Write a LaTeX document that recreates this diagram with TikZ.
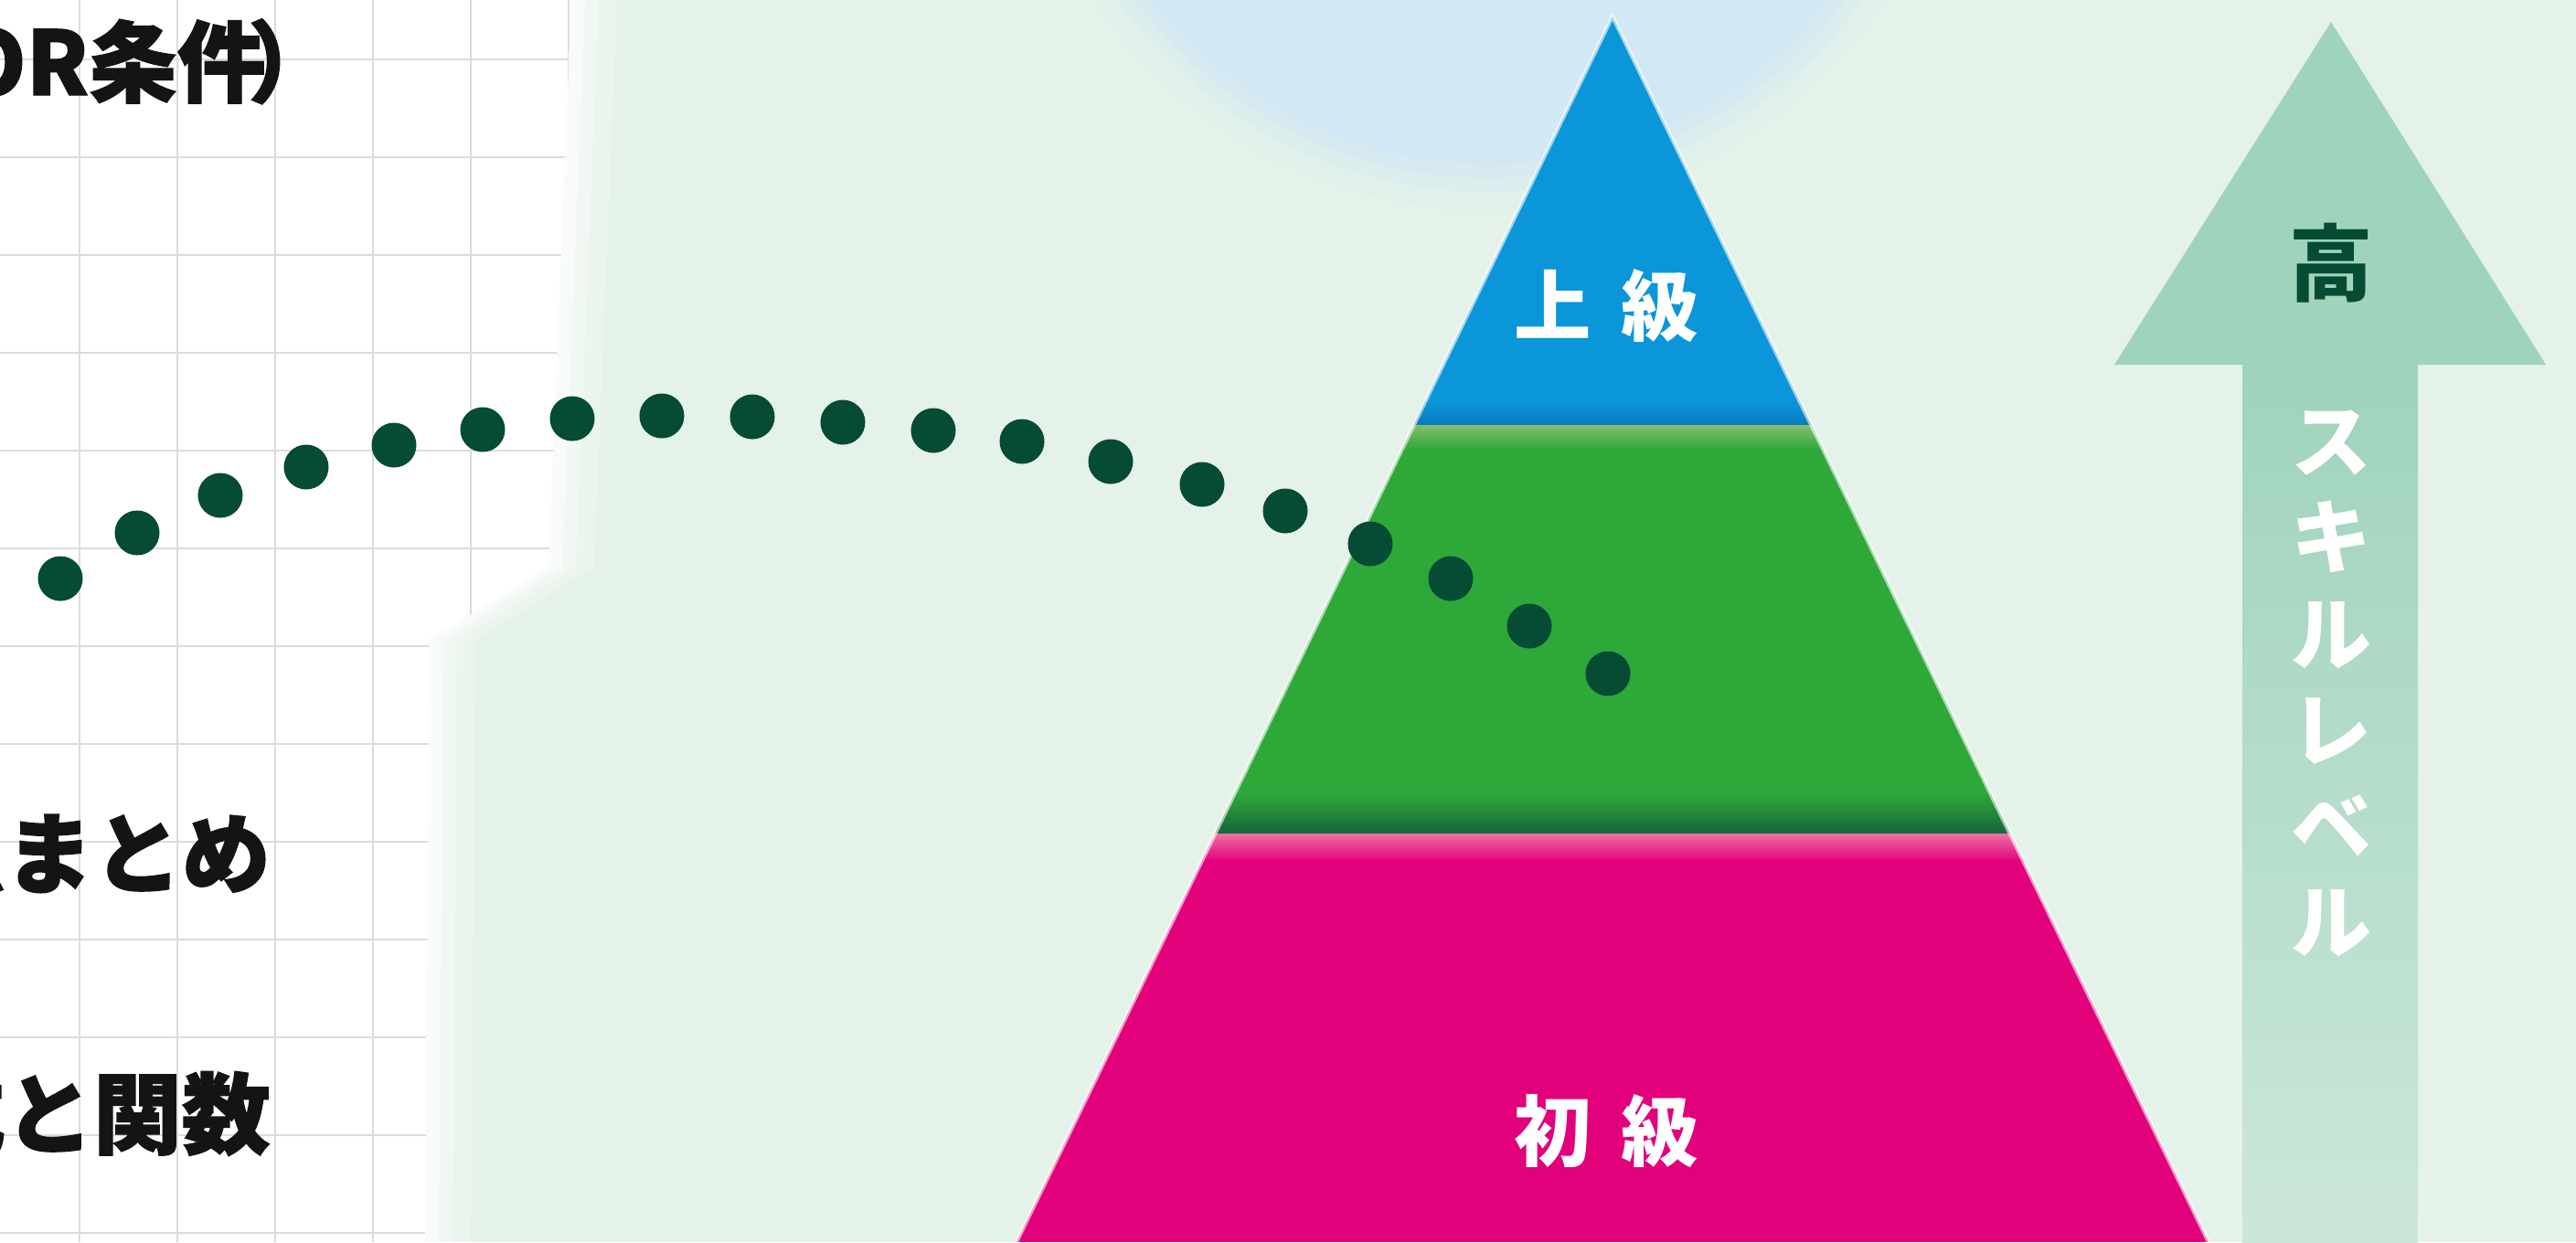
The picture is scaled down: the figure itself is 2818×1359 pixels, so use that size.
\documentclass[tikz,border=0pt]{standalone}
\usepackage{fontspec}
\newfontfamily\jp{Noto Sans CJK JP}
\newfontfamily\jpheavy[BoldFeatures={FakeBold=1.5}]{Noto Sans CJK JP}
\usetikzlibrary{calc}

\definecolor{bgmint}{HTML}{E4F2E9}
\definecolor{gridgray}{HTML}{DCDCDC}
\definecolor{hazeblue}{HTML}{D3E8F5}
\definecolor{tierblue}{HTML}{0A96D9}
\definecolor{tierbluedk}{HTML}{0A78BC}
\definecolor{tiergreen}{HTML}{2FA83A}
\definecolor{tiergreenlt}{HTML}{84BD6E}
\definecolor{tiergreendk}{HTML}{17653A}
\definecolor{tierpink}{HTML}{E2007B}
\definecolor{tierpinklt}{HTML}{EE70A4}
\definecolor{arrowmint}{HTML}{9FD3BC}
\definecolor{dotgreen}{HTML}{064B33}

\begin{document}
\begin{tikzpicture}[x=0.01cm, y=-0.01cm,
    gridline/.style={gridgray, line width=0.7pt},
    leftlabel/.style={inner sep=0pt, anchor=base west, text=black!92,
      font=\jpheavy\bfseries\fontsize{27.5}{30}\selectfont},
    tierlabel/.style={inner sep=0pt, text=white,
      font=\jp\bfseries\fontsize{24}{28}\selectfont},
    pathdot/.style={circle, fill=dotgreen, inner sep=0pt, minimum size=0.49cm}]
    \useasboundingbox (0,0) rectangle (2818,1359);
    \clip (0,0) rectangle (2818,1359);
    \fill[bgmint] (0,0) rectangle (2818,1359);

    % blue haze behind the apex
    \foreach \r/\o in {520/.2, 500/.3, 485/.45, 470/1}
        \fill[hazeblue, opacity=\o] (1630,-290) circle[radius=\r];

    % squared paper
    \foreach \d/\o in {50/.25, 30/.35, 15/.5}
        \fill[white, opacity=\o] (0,0) -- ({625+\d},0) -- ({600+\d},620) -- ({470+\d},700) -- ({465+\d},1359) -- (0,1359) -- cycle;
    \fill[white] (0,0) -- (625,0) -- (600,620) -- (470,700) -- (465,1359) -- (0,1359) -- cycle;
    \begin{scope}
        \clip (0,0) -- (625,0) -- (600,620) -- (470,700) -- (465,1359) -- (0,1359) -- cycle;
        \foreach \gx in {87,194,...,622}
            \draw[gridline] (\gx,0) -- (\gx,1359);
        \foreach \gy in {65,172,...,1359}
            \draw[gridline] (0,\gy) -- (700,\gy);
    \end{scope}

    \node[leftlabel] (orcond) at (-48,104) {OR条件\kern-0.2em）};
    \node[leftlabel] (matome) at (-92,970) {点まとめ};
    \node[leftlabel] (kansu) at (-92,1255) {式と関数};

    % pyramid
    \coordinate (apex) at (1764,18);
    \coordinate (bl) at (1112,1359);
    \coordinate (br) at (2416,1359);
    \begin{scope}
        \clip (apex) -- (br) -- (bl) -- cycle;
        \fill[tierblue] (1100,0) rectangle (2430,465);
        \shade[top color=tierblue, bottom color=tierbluedk] (1100,440) rectangle (2430,466);
        \fill[tiergreen] (1100,465) rectangle (2430,912);
        \shade[top color=tiergreenlt, bottom color=tiergreen] (1100,465) rectangle (2430,492);
        \shade[top color=tiergreen, bottom color=tiergreendk] (1100,868) rectangle (2430,912);
        \fill[tierpink] (1100,912) rectangle (2430,1359);
        \shade[top color=tierpinklt, bottom color=tierpink] (1100,912) rectangle (2430,942);
    \end{scope}
    \draw[white, opacity=.6, line width=1.2pt] (bl) -- (apex) -- (br);

    \node[tierlabel] (upper) at (1757,335) {上\hspace{0.33cm}級};
    \node[tierlabel] (beginner) at (1757,1238) {初\hspace{0.33cm}級};

    % skill level arrow
    \coordinate (tip) at (2550,24);
    \shade[top color=arrowmint, bottom color=arrowmint!35!bgmint] (2453,398) rectangle (2645,1359);
    \fill[arrowmint] (tip) -- (2785,399) -- (2313,399) -- cycle;
    \node[inner sep=0pt, text=dotgreen, font=\jp\bfseries\fontsize{26}{30}\selectfont] (high) at (2550,288) {高};
    \node[inner sep=0pt, text=white, align=center, font=\jp\bfseries\fontsize{25}{29.9}\selectfont] (skill) at (2550,748) {ス\\キ\\ル\\レ\\ベ\\ル};

    % dotted path
    \foreach \dx/\dy [count=\i] in {66/633, 150/583, 241/542, 335/511, 431/487, 528/470, 626/458, 724/455, 823/456, 922/462, 1021/471, 1118/483, 1215/505, 1315/530, 1406/559, 1499/595, 1587/633, 1673/685, 1759/737}
        \node[pathdot] (d\i) at (\dx,\dy) {};
\end{tikzpicture}
\end{document}
